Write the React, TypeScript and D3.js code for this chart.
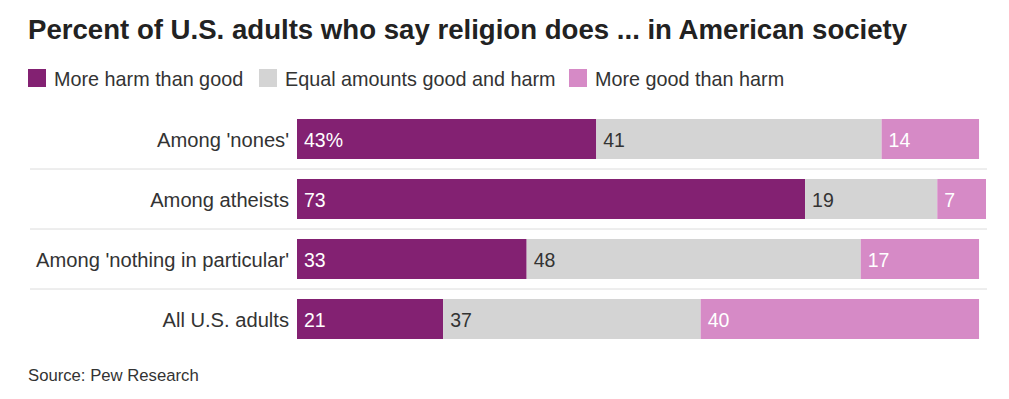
import React from "react";
import * as d3 from "d3";

const categories = ["Among 'nones'", "Among atheists", "Among 'nothing in particular'", "All U.S. adults"];
const seriesNames = ["More harm than good", "Equal amounts good and harm", "More good than harm"];
const harm = [43, 73, 33, 21];
const equal = [41, 19, 48, 37];
const good = [14, 7, 17, 40];
const colors = ["#832172", "#d4d4d4", "#d68ac6"];
const labelColors = ["#ffffff", "#333333", "#ffffff"];

const W = 1009;
const H = 399;
const FONT = "'Liberation Sans', Arial, sans-serif";

export default function App() {
  const x = d3.scaleLinear().domain([0, 99]).range([297, 986]);
  const y = d3.scaleBand<string>().domain(categories).range([109, 349]).paddingInner(1 / 3).paddingOuter(1 / 6);
  const series = [harm, equal, good];
  const rows = categories.map((c, i) => {
    let acc = 0;
    return series.map((s, k) => {
      const x0 = acc;
      acc += s[i];
      return { k, x0, x1: acc, v: s[i] };
    });
  });
  const legendX = [28, 259, 569];
  return (
    <svg width={W} height={H} style={{ position: "absolute", left: 0, top: 0, background: "#fff" }}>
      <text x={28} y={39} fontFamily={FONT} fontWeight={700} fontSize={27.6} fill="#222">
        Percent of U.S. adults who say religion does ... in American society
      </text>
      {seriesNames.map((n, k) => (
        <g key={n}>
          <rect x={legendX[k]} y={69} width={18} height={18} fill={colors[k]} />
          <text x={legendX[k] + 26} y={86} fontFamily={FONT} fontSize={19.8} fill="#333">
            {n}
          </text>
        </g>
      ))}
      {categories.slice(0, -1).map((c, i) => {
        const yy = (y(c)! + y.bandwidth() + y(categories[i + 1])!) / 2;
        return <line key={c} x1={30} x2={987} y1={yy} y2={yy} stroke="#dcdcdc" strokeWidth={1} />;
      })}
      {categories.map((c, i) => (
        <g key={c}>
          <text x={289} y={y(c)! + y.bandwidth() / 2 + 7.5} textAnchor="end" fontFamily={FONT} fontSize={20.15} fill="#333">
            {c}
          </text>
          {rows[i].map((r) => (
            <g key={r.k}>
              <rect x={x(r.x0)} y={y(c)!} width={x(r.x1) - x(r.x0)} height={y.bandwidth()} fill={colors[r.k]} />
              <text x={x(r.x0) + 7} y={y(c)! + y.bandwidth() / 2 + 7.5} fontFamily={FONT} fontSize={19.5} fill={labelColors[r.k]}>
                {i === 0 && r.k === 0 ? `${r.v}%` : r.v}
              </text>
            </g>
          ))}
        </g>
      ))}
      <text x={28} y={381} fontFamily={FONT} fontSize={16.7} fill="#333">
        Source: Pew Research
      </text>
    </svg>
  );
}
